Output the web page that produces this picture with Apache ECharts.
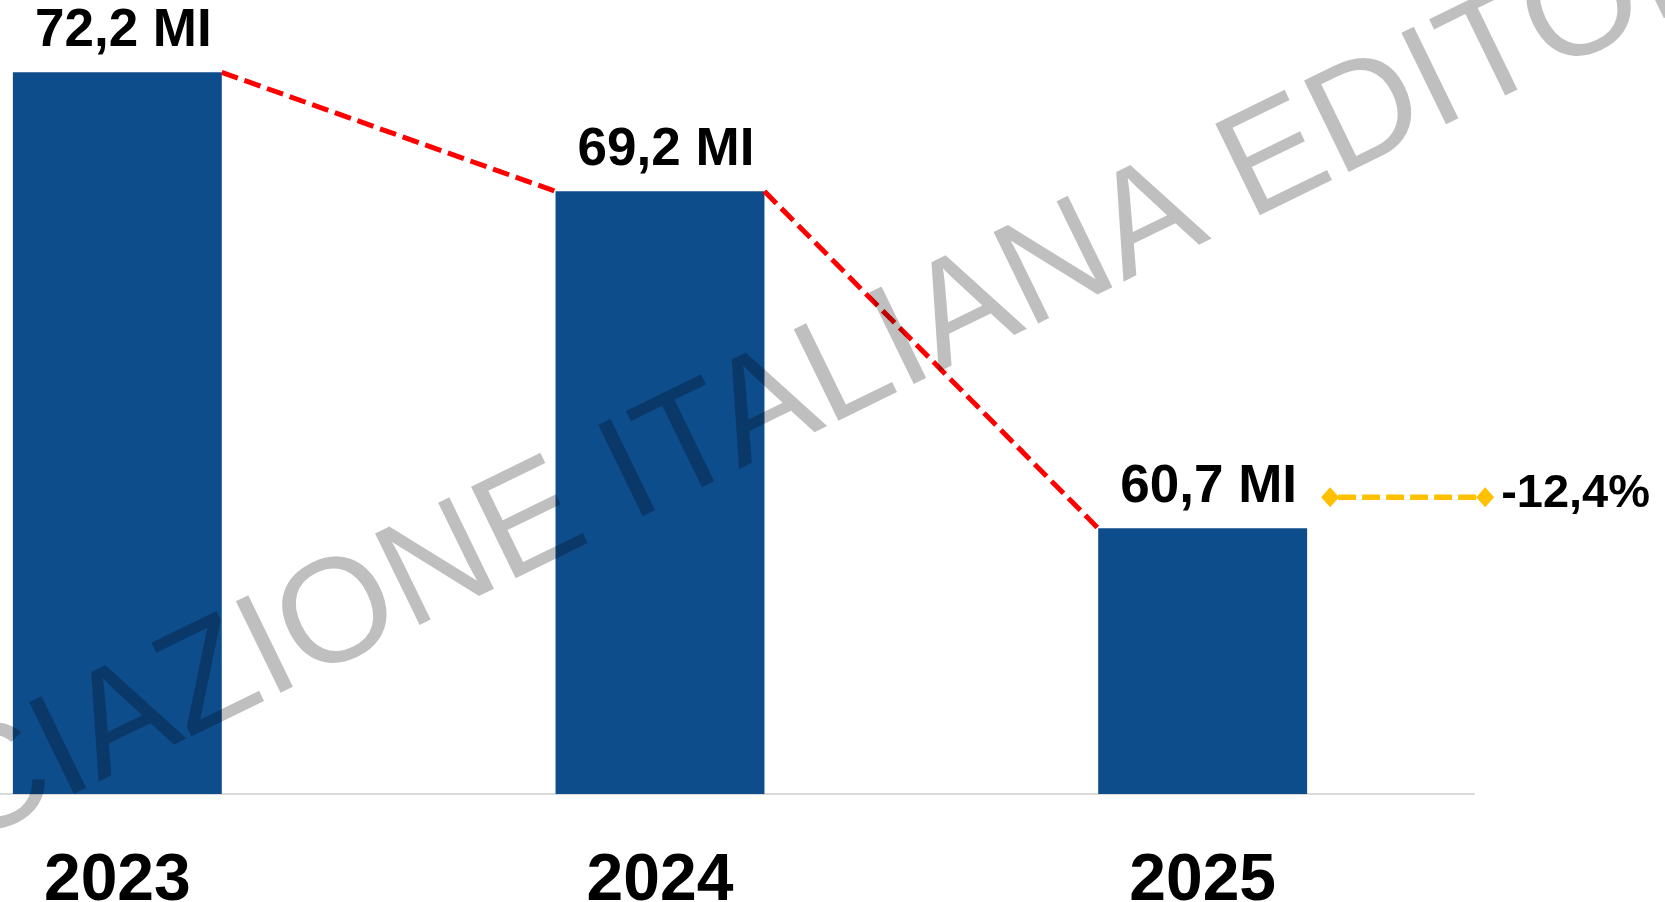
<!DOCTYPE html>
<html>
<head>
<meta charset="utf-8">
<title>Vendite 2023-2025</title>
<script src="https://cdn.jsdelivr.net/npm/echarts@6/dist/echarts.min.js"></script>
<style>
  html, body { margin: 0; padding: 0; background: #fff; }
  #chart { width: 1665px; height: 902px; }
</style>
</head>
<body>
<div id="chart"></div>
<script>
// dati
var years = ['2023', '2024', '2025'];
var values = [72.2, 69.2, 60.7];
var changeLabel = '-12,4%';
var watermark = 'ASSOCIAZIONE ITALIANA EDITORI';

var BAR_RATIO = 0.385; // larghezza barra / banda categoria
var FONT = '"Liberation Sans", Arial, sans-serif';

// segmenti tratteggiati tra le barre: [indice, valore prec, valore succ]
var connectors = [];
for (var i = 1; i < values.length; i++) {
    connectors.push([i - 1, values[i - 1], values[i]]);
}

var myChart = echarts.init(document.getElementById('chart'));

var option = {
    backgroundColor: '#ffffff',
    animation: false,
    grid: {
        left: -154, right: 191, top: 1, bottom: 108,
        outerBoundsMode: 'none',
        containLabel: false
    },
    xAxis: {
        type: 'category',
        data: years,
        axisTick: { show: false },
        axisLine: { lineStyle: { color: '#d9d9d9', width: 2 } },
        axisLabel: {
            margin: 55,
            color: '#000',
            fontSize: 66,
            fontWeight: 'bold',
            fontFamily: FONT
        }
    },
    yAxis: {
        type: 'value',
        min: 54,
        max: 74,
        show: false
    },
    series: [
        {
            type: 'bar',
            data: values,
            barWidth: (BAR_RATIO * 100) + '%',
            itemStyle: { color: '#0e4d8c' },
            label: {
                show: true,
                position: 'top',
                distance: 14,
                offset: [6, 0],
                color: '#000',
                fontSize: 53,
                fontWeight: 'bold',
                fontFamily: FONT,
                formatter: function (p) {
                    return p.value.toFixed(1).replace('.', ',') + ' MI';
                }
            }
        },
        {
            // linea rossa tra gli spigoli delle barre
            type: 'custom',
            data: connectors,
            encode: { x: 0, y: [1, 2] },
            z: 3,
            renderItem: function (params, api) {
                var idx = api.value(0);
                var a = api.coord([idx, api.value(1)]);
                var b = api.coord([idx + 1, api.value(2)]);
                var half = api.size([1, 0])[0] * BAR_RATIO / 2;
                return {
                    type: 'line',
                    shape: { x1: a[0] + half, y1: a[1], x2: b[0] - half, y2: b[1] },
                    style: { stroke: '#ff0000', lineWidth: 5, lineDash: [17, 7] }
                };
            }
        },
        {
            // variazione ultimo anno
            type: 'custom',
            data: [[values.length - 1, values[values.length - 1]]],
            encode: { x: 0, y: 1 },
            z: 3,
            renderItem: function (params, api) {
                var p = api.coord([api.value(0), api.value(1)]);
                var half = api.size([1, 0])[0] * BAR_RATIO / 2;
                var y = p[1] - 31;
                var x1 = p[0] + half + 23;
                var x2 = x1 + 155;
                function diamond(cx) {
                    return {
                        type: 'polygon',
                        shape: { points: [[cx - 9, y], [cx, y - 10], [cx + 9, y], [cx, y + 10]] },
                        style: { fill: '#ffc000' }
                    };
                }
                return {
                    type: 'group',
                    children: [
                        {
                            type: 'line',
                            shape: { x1: x1 + 8, y1: y, x2: x2 - 8, y2: y },
                            style: { stroke: '#ffc000', lineWidth: 5.5, lineDash: [18, 6] }
                        },
                        diamond(x1),
                        diamond(x2),
                        {
                            type: 'text',
                            style: {
                                x: x2 + 16,
                                y: y - 3,
                                text: changeLabel,
                                fill: '#000',
                                font: 'bold 47px ' + FONT,
                                verticalAlign: 'middle',
                                align: 'left'
                            }
                        }
                    ]
                };
            }
        }
    ],
    graphic: [
        {
            type: 'text',
            x: 673,
            y: 456,
            rotation: 26 * Math.PI / 180,
            z: 100,
            silent: true,
            style: {
                text: watermark,
                fill: 'rgba(0,0,0,0.25)',
                font: '148px ' + FONT,
                align: 'center',
                verticalAlign: 'middle'
            }
        }
    ]
};

myChart.setOption(option);
</script>
</body>
</html>
